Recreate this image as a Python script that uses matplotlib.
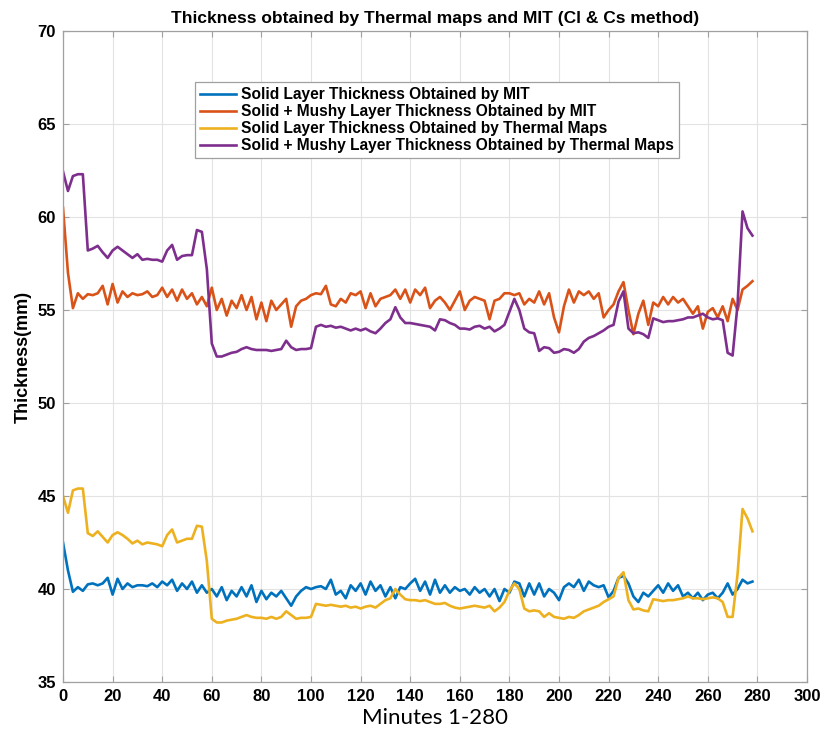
import numpy as np
import matplotlib
matplotlib.use("Agg")
import matplotlib.pyplot as plt

# minutes sampled every 2 min
minutes = np.arange(0, 280, 2)

mit_solid = [
    42.5, 41.0, 39.85, 40.1, 39.9, 40.25, 40.3, 40.2, 40.3, 40.6,
    39.7, 40.55, 40.0, 40.3, 40.1, 40.2, 40.2, 40.15, 40.3, 40.1,
    40.4, 40.2, 40.5, 39.9, 40.3, 40.0, 40.4, 39.8, 40.2, 39.8,
    40.0, 39.6, 40.1, 39.4, 39.9, 39.6, 40.1, 39.6, 40.2, 39.3,
    39.9, 39.45, 39.8, 39.6, 39.9, 39.5, 39.1, 39.6, 39.9, 40.1,
    40.0, 40.1, 40.15, 40.0, 40.5, 39.7, 39.9, 39.5, 40.2, 39.9,
    40.3, 39.7, 40.4, 39.9, 40.2, 39.6, 40.1, 39.5, 40.1, 40.0,
    40.3, 40.55, 39.9, 40.4, 39.7, 40.5, 39.8, 40.2, 39.8, 40.1,
    39.9, 40.0, 39.7, 40.1, 39.8, 40.0, 39.6, 40.0, 39.35, 40.0,
    39.8, 40.4, 40.3, 39.6, 40.3, 39.7, 40.3, 39.6, 40.0, 39.8,
    39.4, 40.1, 40.3, 40.1, 40.5, 39.9, 40.4, 40.2, 40.1, 40.2,
    39.55, 39.9, 40.6, 40.7, 40.3, 39.6, 39.3, 39.8, 39.6, 39.9,
    40.2, 39.8, 40.3, 39.9, 40.2, 39.6, 39.8, 39.5, 39.8, 39.4,
    39.7, 39.8, 39.5, 39.8, 40.3, 39.7, 40.0, 40.5, 40.3, 40.4,
]

mit_mushy = [
    60.5, 57.0, 55.1, 55.9, 55.6, 55.85, 55.8, 55.9, 56.3, 55.3,
    56.4, 55.4, 56.0, 55.7, 55.9, 55.8, 55.85, 56.0, 55.7, 55.8,
    56.2, 55.7, 56.1, 55.5, 56.1, 55.6, 55.9, 55.3, 55.7, 55.2,
    56.2, 55.0, 55.6, 54.7, 55.5, 55.1, 55.8, 55.0, 55.7, 54.5,
    55.4, 54.4, 55.5, 55.0, 55.3, 55.6, 54.1, 55.2, 55.5, 55.6,
    55.8, 55.9, 55.85, 56.3, 55.3, 55.2, 55.6, 55.4, 55.9, 55.8,
    56.0, 55.1, 55.9, 55.2, 55.6, 55.7, 55.8, 56.1, 55.6, 56.1,
    55.4, 56.1, 55.8, 56.2, 55.1, 55.5, 55.7, 55.4, 55.0, 55.5,
    56.0, 55.0, 55.5, 55.7, 55.6, 55.5, 54.5, 55.5, 55.6, 55.9,
    55.9, 55.8, 55.9, 55.3, 55.6, 55.4, 56.0, 55.3, 55.9, 54.6,
    53.8, 55.2, 56.1, 55.4, 56.0, 55.8, 56.0, 55.6, 55.9, 54.6,
    55.0, 55.3, 56.0, 56.5, 55.0, 53.7, 54.8, 55.5, 54.2, 55.4,
    55.2, 55.7, 55.3, 55.7, 55.4, 55.6, 55.2, 54.8, 55.2, 54.0,
    54.9, 55.1, 54.6, 55.2, 54.4, 55.6, 55.0, 56.1, 56.3, 56.55,
]

thermal_solid = [
    45.0, 44.1, 45.3, 45.4, 45.4, 43.0, 42.85, 43.1, 42.8, 42.5,
    42.9, 43.05, 42.9, 42.7, 42.45, 42.6, 42.4, 42.5, 42.45, 42.4,
    42.3, 42.9, 43.2, 42.5, 42.6, 42.7, 42.7, 43.4, 43.35, 41.5,
    38.4, 38.2, 38.2, 38.3, 38.35, 38.4, 38.5, 38.6, 38.5, 38.45,
    38.45, 38.4, 38.5, 38.4, 38.5, 38.8, 38.6, 38.4, 38.45, 38.45,
    38.5, 39.2, 39.15, 39.1, 39.15, 39.1, 39.05, 39.1, 39.0, 39.05,
    38.95, 39.05, 39.1, 39.0, 39.2, 39.4, 39.5, 40.0, 39.7, 39.45,
    39.4, 39.4, 39.35, 39.4, 39.3, 39.2, 39.2, 39.25, 39.1, 39.0,
    38.95, 39.0, 39.05, 39.1, 39.05, 39.0, 39.1, 38.8, 39.0, 39.3,
    39.9, 40.3, 40.0, 38.95, 38.8, 38.85, 38.8, 38.5, 38.7, 38.5,
    38.45, 38.4, 38.5, 38.45, 38.6, 38.8, 38.9, 39.0, 39.1, 39.3,
    39.45, 39.6, 40.6, 40.9, 39.4, 38.9, 38.95, 38.85, 38.8, 39.45,
    39.4, 39.35, 39.4, 39.4, 39.45, 39.5, 39.6, 39.5, 39.5, 39.45,
    39.5, 39.55, 39.5, 39.3, 38.5, 38.5, 40.8, 44.3, 43.8, 43.1,
]

thermal_mushy = [
    62.45, 61.4, 62.2, 62.3, 62.3, 58.2, 58.3, 58.45, 58.1, 57.8,
    58.2, 58.4, 58.2, 58.0, 57.8, 58.0, 57.7, 57.75, 57.7, 57.7,
    57.6, 58.2, 58.5, 57.7, 57.9, 57.95, 57.95, 59.3, 59.2, 57.2,
    53.2, 52.5, 52.5, 52.6, 52.7, 52.75, 52.9, 53.0, 52.9, 52.85,
    52.85, 52.85, 52.8, 52.85, 52.9, 53.35, 53.0, 52.85, 52.9, 52.9,
    52.95, 54.1, 54.2, 54.1, 54.15, 54.05, 54.1, 54.0, 53.9, 54.0,
    53.9, 54.0, 53.85, 53.75, 54.0, 54.3, 54.5, 55.15, 54.6, 54.3,
    54.3, 54.25, 54.2, 54.15, 54.1, 53.9, 54.5, 54.45, 54.3, 54.2,
    54.0, 54.0, 53.95, 54.1, 54.15, 54.0, 54.1, 53.85, 54.0, 54.2,
    54.9, 55.6, 55.0, 54.0, 53.8, 53.75, 52.8, 53.0, 52.95, 52.7,
    52.75, 52.9, 52.85, 52.7, 52.9, 53.3, 53.5, 53.6, 53.75, 53.9,
    54.1, 54.2, 55.45, 56.0, 54.0, 53.75, 53.8, 53.7, 53.5, 54.55,
    54.45, 54.35, 54.4, 54.4, 54.45, 54.5, 54.6, 54.6, 54.7, 54.8,
    54.6, 54.5, 54.55, 54.45, 52.7, 52.55, 55.3, 60.3, 59.4, 59.0,
]

labels = [
    "Solid Layer Thickness Obtained by MIT",
    "Solid + Mushy Layer Thickness Obtained by MIT",
    "Solid Layer Thickness Obtained by Thermal Maps",
    "Solid + Mushy Layer Thickness Obtained by Thermal Maps",
]
colors = ["#0072BD", "#D95319", "#EDB120", "#7E2F8E"]

plt.rcParams['font.family'] = ['Liberation Sans', 'DejaVu Sans']

fig = plt.figure(figsize=(8.27, 7.38), dpi=100)
ax = fig.add_axes([63 / 827, 1 - 682 / 738, (807 - 63) / 827, (682 - 31) / 738])

for series, lab, col in zip([mit_solid, mit_mushy, thermal_solid, thermal_mushy], labels, colors):
    ax.plot(minutes, series, color=col, lw=1.9, label=lab)

ax.set_xlim(0, 300)
ax.set_ylim(35, 70)
ax.set_xticks(np.arange(0, 301, 20))
ax.set_yticks(np.arange(35, 71, 5))
ax.grid(True, color="#e3e3e3", lw=0.8)
ax.set_axisbelow(True)
for s in ax.spines.values():
    s.set_color("#a0a0a0")
    s.set_linewidth(0.9)
ax.tick_params(direction="in", length=4, color="#a0a0a0", top=True, right=True,
               labelsize=12, pad=5)
for t in ax.get_xticklabels() + ax.get_yticklabels():
    t.set_fontweight("bold")

ax.set_title("Thickness obtained by Thermal maps and MIT (Cl & Cs method)",
             fontsize=12.5, fontweight="bold", pad=6)
ax.set_ylabel("Thickness(mm)", fontsize=13, fontweight="bold", labelpad=4)
ax.set_xlabel("Minutes 1-280", fontsize=16, family=["Lato", "DejaVu Sans"], labelpad=3)

leg = ax.legend(loc="upper left", bbox_to_anchor=((195 - 63) / 744, 1 - (82 - 31) / 651),
                borderaxespad=0, prop={"weight": "bold", "size": 11.2},
                handlelength=2.3, handletextpad=0.3, labelspacing=0.12,
                borderpad=0.35, fancybox=False, framealpha=1)
leg.get_frame().set_edgecolor("#a0a0a0")
leg.get_frame().set_linewidth(0.9)

fig.savefig("out.png", dpi=100)
